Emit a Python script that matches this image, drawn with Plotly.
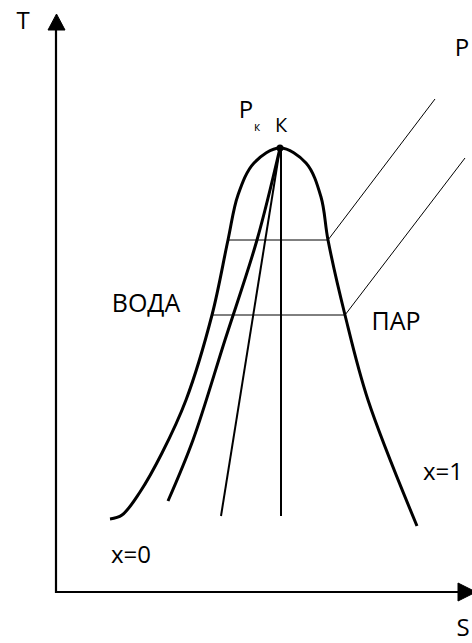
import plotly.graph_objects as go

# Координаты в пикселях холста (S вправо, T вниз -> ось y перевёрнута)
W, H = 472, 643

# пограничная кривая (левая ветвь x=0 снизу вверх, затем правая x=1 вниз)
dome_s = [110, 122, 140, 162, 186, 212, 228, 238, 254, 280,
          306, 321, 328, 345, 368, 417]
dome_t = [519, 515, 492, 453, 400, 315, 240, 195, 163, 148,
          163, 197, 240, 315, 400, 526]

# линии постоянной степени сухости
x_thick_s = [280, 257, 225, 193, 168]
x_thick_t = [148, 240, 340, 440, 501]
x_thin_s = [280, 221]
x_thin_t = [148, 516]
x_vert_s = [281, 281]
x_vert_t = [148, 516]

# изобары: горизонтальный участок + перегретый пар
p1_s = [228, 328, 435]
p1_t = [240, 240, 99]
p2_s = [212, 345, 465]
p2_t = [315, 315, 158]

# оси
ax_s = [56, 56, 460]
ax_t = [28, 592, 592]
arr_y_s = [48, 65, 56.5, 48]
arr_y_t = [30, 30, 14, 30]
arr_x_s = [458, 458, 476, 458]
arr_x_t = [583, 601, 592, 583]

# точка К
k_s, k_t = [280], [148]

labels = ["T", "P", "P", "К", "ВОДА", "ПАР", "x=0", "x=1", "S"]
lab_s = [23, 462, 246, 281, 146, 396, 131, 443, 463]
lab_t = [23, 50, 112, 127, 306, 324, 557, 474, 630]
lab_size = [24, 24, 24, 20, 25, 25, 24, 24, 24]
sub_lab, sub_s, sub_t = ["к"], [257], [128]

fig = go.Figure()

def line(xs, ys, w, shape="linear"):
    fig.add_trace(go.Scatter(x=xs, y=ys, mode="lines",
                             line=dict(color="black", width=w, shape=shape, smoothing=1.0),
                             hoverinfo="skip", showlegend=False))

line(dome_s, dome_t, 3, "spline")
line(x_thick_s, x_thick_t, 3, "spline")
line(x_thin_s, x_thin_t, 2)
line(x_vert_s, x_vert_t, 2)
line(p1_s, p1_t, 1)
line(p2_s, p2_t, 1)
line(ax_s, ax_t, 2.2)

for xs, ys in [(arr_y_s, arr_y_t), (arr_x_s, arr_x_t)]:
    fig.add_trace(go.Scatter(x=xs, y=ys, mode="lines", fill="toself",
                             fillcolor="black", line=dict(color="black", width=1),
                             hoverinfo="skip", showlegend=False))

fig.add_trace(go.Scatter(x=k_s, y=k_t, mode="markers",
                         marker=dict(color="black", size=7),
                         hoverinfo="skip", showlegend=False))

fig.add_trace(go.Scatter(x=lab_s, y=lab_t, mode="text", text=labels,
                         textposition="middle center",
                         textfont=dict(family="Open Sans", size=lab_size, color="black"),
                         hoverinfo="skip", showlegend=False))
fig.add_trace(go.Scatter(x=sub_s, y=sub_t, mode="text", text=sub_lab,
                         textposition="middle center",
                         textfont=dict(family="Open Sans", size=12, color="black"),
                         hoverinfo="skip", showlegend=False))

fig.update_layout(
    width=W, height=H,
    margin=dict(l=0, r=0, t=0, b=0),
    paper_bgcolor="white", plot_bgcolor="white",
    xaxis=dict(range=[0, W], visible=False, fixedrange=True),
    yaxis=dict(range=[H, 0], visible=False, fixedrange=True),
)

fig.write_html("out.html", config={"displayModeBar": False},
               post_script="document.body.style.margin='0';")
